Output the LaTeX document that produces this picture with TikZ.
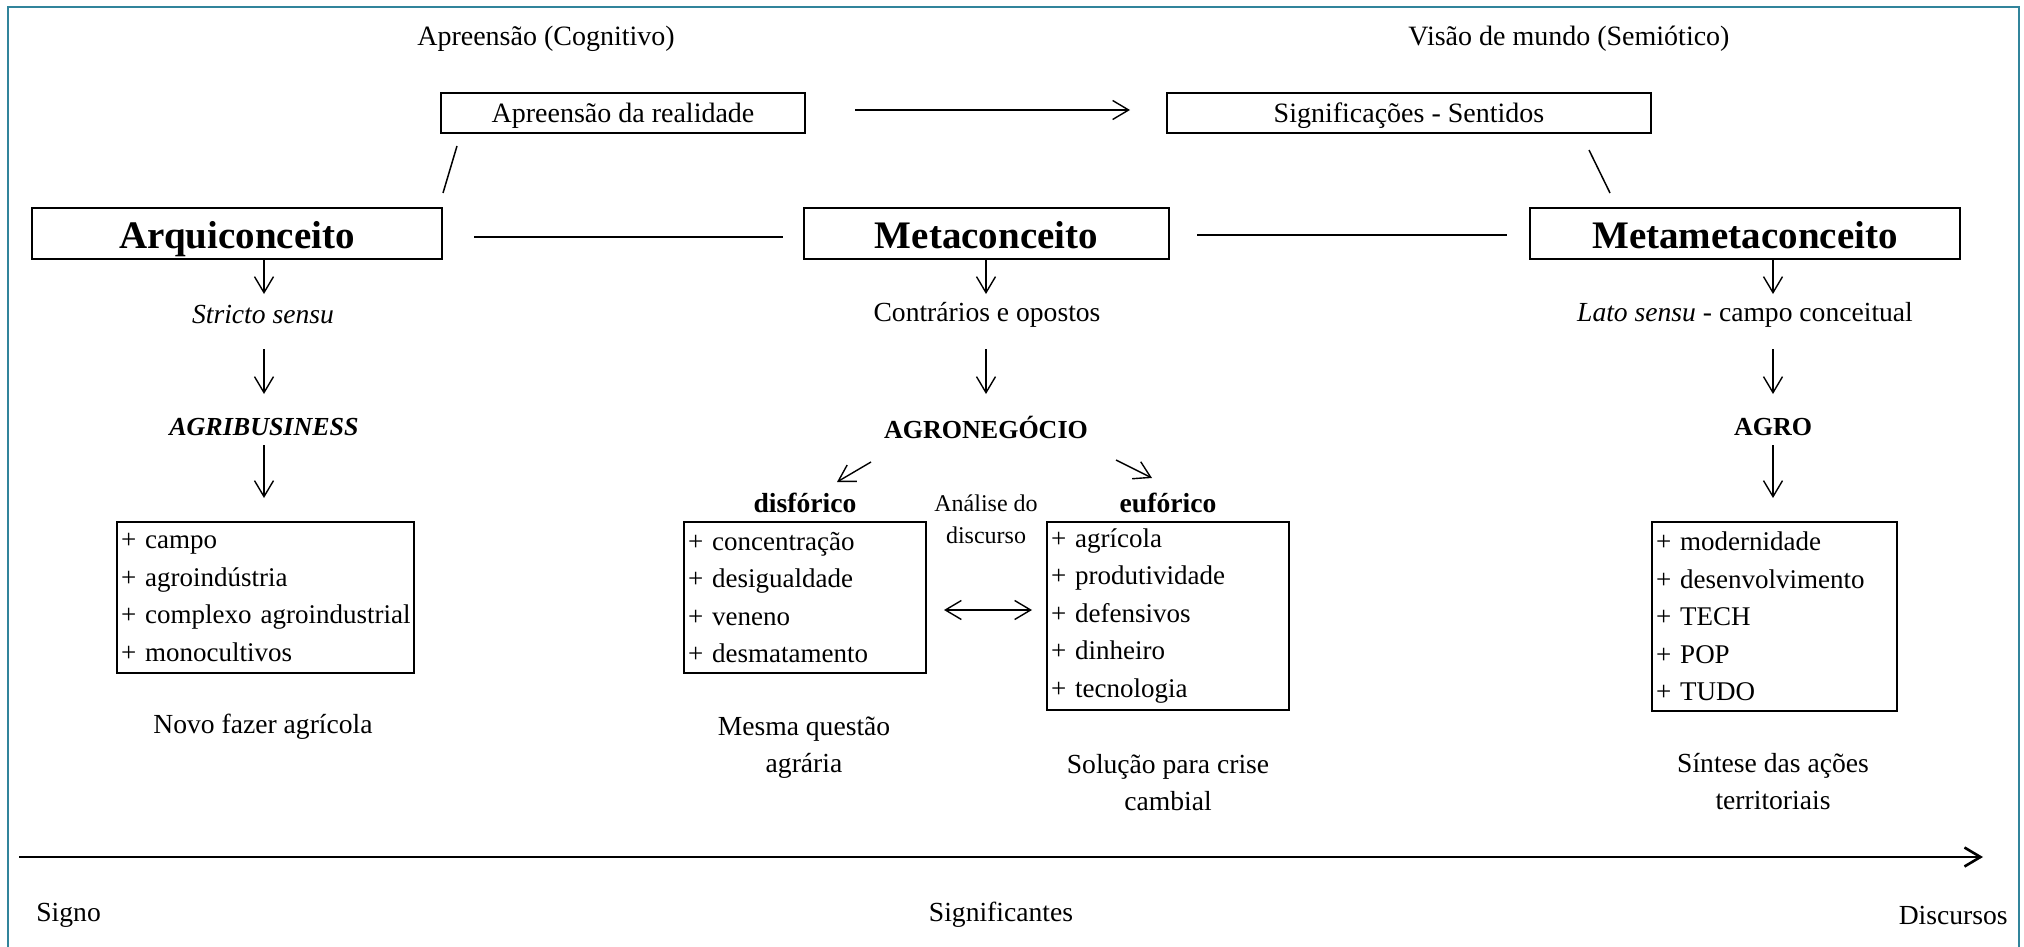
\documentclass[tikz,border=0pt]{standalone}
\usepackage{fontspec}
\setmainfont{Liberation Serif}
\usetikzlibrary{arrows.meta,calc}
\definecolor{frameteal}{RGB}{49,132,155}
\newcommand{\fsN}{\fontsize{13.8}{18.5}\selectfont}
\newcommand{\fsT}{\fontsize{14}{16.8}\selectfont}
\newcommand{\fsB}{\fontsize{19.5}{23}\selectfont\bfseries}
\newcommand{\fsC}{\fontsize{13}{16}\selectfont\bfseries}
\newcommand{\fsL}{\fontsize{13.5}{18.75}\selectfont}
\newcommand{\fsS}{\fontsize{12}{16}\selectfont}
\begin{document}
\begin{tikzpicture}[x=0.5pt,y=-0.5pt,
  lbl/.style={font=\fsN, inner sep=0pt, align=center},
  frm/.style={draw, line width=1pt, inner sep=0pt, align=center},
  smallbox/.style={frm, font=\fsT, minimum height=20pt, text height=12pt, text depth=2pt},
  bigbox/.style={frm, font=\fsB, minimum height=25.5pt, text height=18pt, text depth=3.5pt},
  lst/.style={draw, line width=1pt, inner xsep=2pt, inner ysep=0pt, align=left, font=\fsL, anchor=north west},
  arr/.style={-{Straight Barb[length=8pt,width=9.5pt]}, line width=0.7pt},
  darr/.style={{Straight Barb[length=8pt,width=9.5pt]}-{Straight Barb[length=8pt,width=9.5pt]}, line width=0.7pt},
  ln/.style={line width=0.75pt},
]
\useasboundingbox (0,0) rectangle (2024,947);
\draw[frameteal, line width=1.4pt] (8,7) rectangle (2019,990);

% top labels
\node[lbl, font=\fsT] (tA) at (546,39) {Apreensão (Cognitivo)};
\node[lbl, font=\fsT] (tV) at (1569,39) {Visão de mundo (Semiótico)};

% top boxes
\node[smallbox, minimum width=182pt] (bA) at (623,113) {Apreensão da realidade};
\node[smallbox, minimum width=242pt] (bS) at (1409,113) {Significações - Sentidos};
\draw[arr] ($(bA.east)+(49,-3)$) -- ($(bS.west)+(-36,-3)$);

% main concepts
\node[bigbox, minimum width=205pt] (ar) at (237,233.5) {Arquiconceito};
\node[bigbox, minimum width=182.5pt] (mc) at (986.5,233.5) {Metaconceito};
\node[bigbox, minimum width=215pt] (mm) at (1745,233.5) {Metametaconceito};
\draw[ln] ($(bA.south west)+(17,12)$) -- ($(ar.north east)+(0,-14)$);
\draw[ln] ($(bS.south east)+(-63,16)$) -- ($(mm.north west)+(81,-14)$);
\draw[ln] ($(ar.east)+(31,3.5)$) -- ($(mc.west)+(-20,3.5)$);
\draw[ln] ($(mc.east)+(27,1.5)$) -- ($(mm.west)+(-22,1.5)$);

% column 1
\node[lbl] (st) at (263,315) {\itshape Stricto sensu};
\node[lbl, font=\fsC\itshape] (ag) at (264,427) {AGRIBUSINESS};
\node[lst, minimum width=148.5pt, minimum height=75.5pt, text width=144.5pt] (lb) at (116,521)
  {\mbox{+ campo}\\\mbox{+ agroindústria}\\\mbox{+ complexo agroindustrial}\\\mbox{+ monocultivos}};
\node[lbl] (nf) at (263,727) {Novo fazer agrícola};
\draw[arr] (ar.south -| ag) -- ($(ag)+(0,-133)$);
\draw[arr] ($(ag)+(0,-78)$) -- ($(ag)+(0,-33)$);
\draw[arr] ($(ag)+(0,18)$) -- ($(lb.north -| ag)+(0,-23)$);

% column 2
\node[lbl] (co) at (987,315) {Contrários e opostos};
\node[lbl, font=\fsC] (an) at (986,427) {AGRONEGÓCIO};
\node[lbl, font=\fsN\bfseries] (df) at (805,503) {disfórico};
\node[lbl, font=\fsN\bfseries] (eu) at (1168,503) {eufórico};
\node[lbl, font=\fsS] (ad) at (986,519) {Análise do\\discurso};
\node[lst, minimum width=121pt, minimum height=75.5pt, text width=117pt] (dbox) at (683,521)
  {+ concentração\\+ desigualdade\\+ veneno\\+ desmatamento};
\node[lst, minimum width=121pt, minimum height=94pt, text width=117pt] (ebox) at (1046,521)
  {+ agrícola\\+ produtividade\\+ defensivos\\+ dinheiro\\+ tecnologia};
\node[lbl] (mq) at (804,748) {Mesma questão\\agrária};
\node[lbl] (so) at (1168,783) {Solução para crise\\cambial};
\draw[arr] (mc.south -| an) -- ($(an)+(0,-133)$);
\draw[arr] ($(an)+(0,-78)$) -- ($(an)+(0,-33)$);
\draw[arr] ($(an)+(-115,35)$) -- ($(df)+(32,-21)$);
\draw[arr] ($(an)+(130,33)$) -- ($(eu)+(-16,-25)$);
\draw[darr] ($(dbox.east)+(17,12.5)$) -- ($(ebox.west)+(-14,-6)$);

% column 3
\node[lbl] (la) at (1745,315) {\textit{Lato sensu} - campo conceitual};
\node[lbl, font=\fsC] (ao) at (1773,427) {AGRO};
\node[lst, minimum width=122.5pt, minimum height=94.5pt, text width=118.5pt] (rbox) at (1651,521)
  {+ modernidade\\+ desenvolvimento\\+ TECH\\+ POP\\+ TUDO};
\node[lbl] (si) at (1773,782) {Síntese das ações\\territoriais};
\draw[arr] (mm.south -| ao) -- ($(ao)+(0,-133)$);
\draw[arr] ($(ao)+(0,-78)$) -- ($(ao)+(0,-33)$);
\draw[arr] ($(ao)+(0,18)$) -- ($(rbox.north -| ao)+(0,-23)$);

% bottom axis
\coordinate (axS) at (19,857);
\coordinate (axE) at (1983,857);
\draw[arr, line width=1.3pt] (axS) -- (axE);
\node[lbl, anchor=west] (sg) at (36,915) {Signo};
\node[lbl] (sf) at (1001,915) {Significantes};
\node[lbl, anchor=east] (di) at (2008,915) {Discursos};
\end{tikzpicture}
\end{document}
